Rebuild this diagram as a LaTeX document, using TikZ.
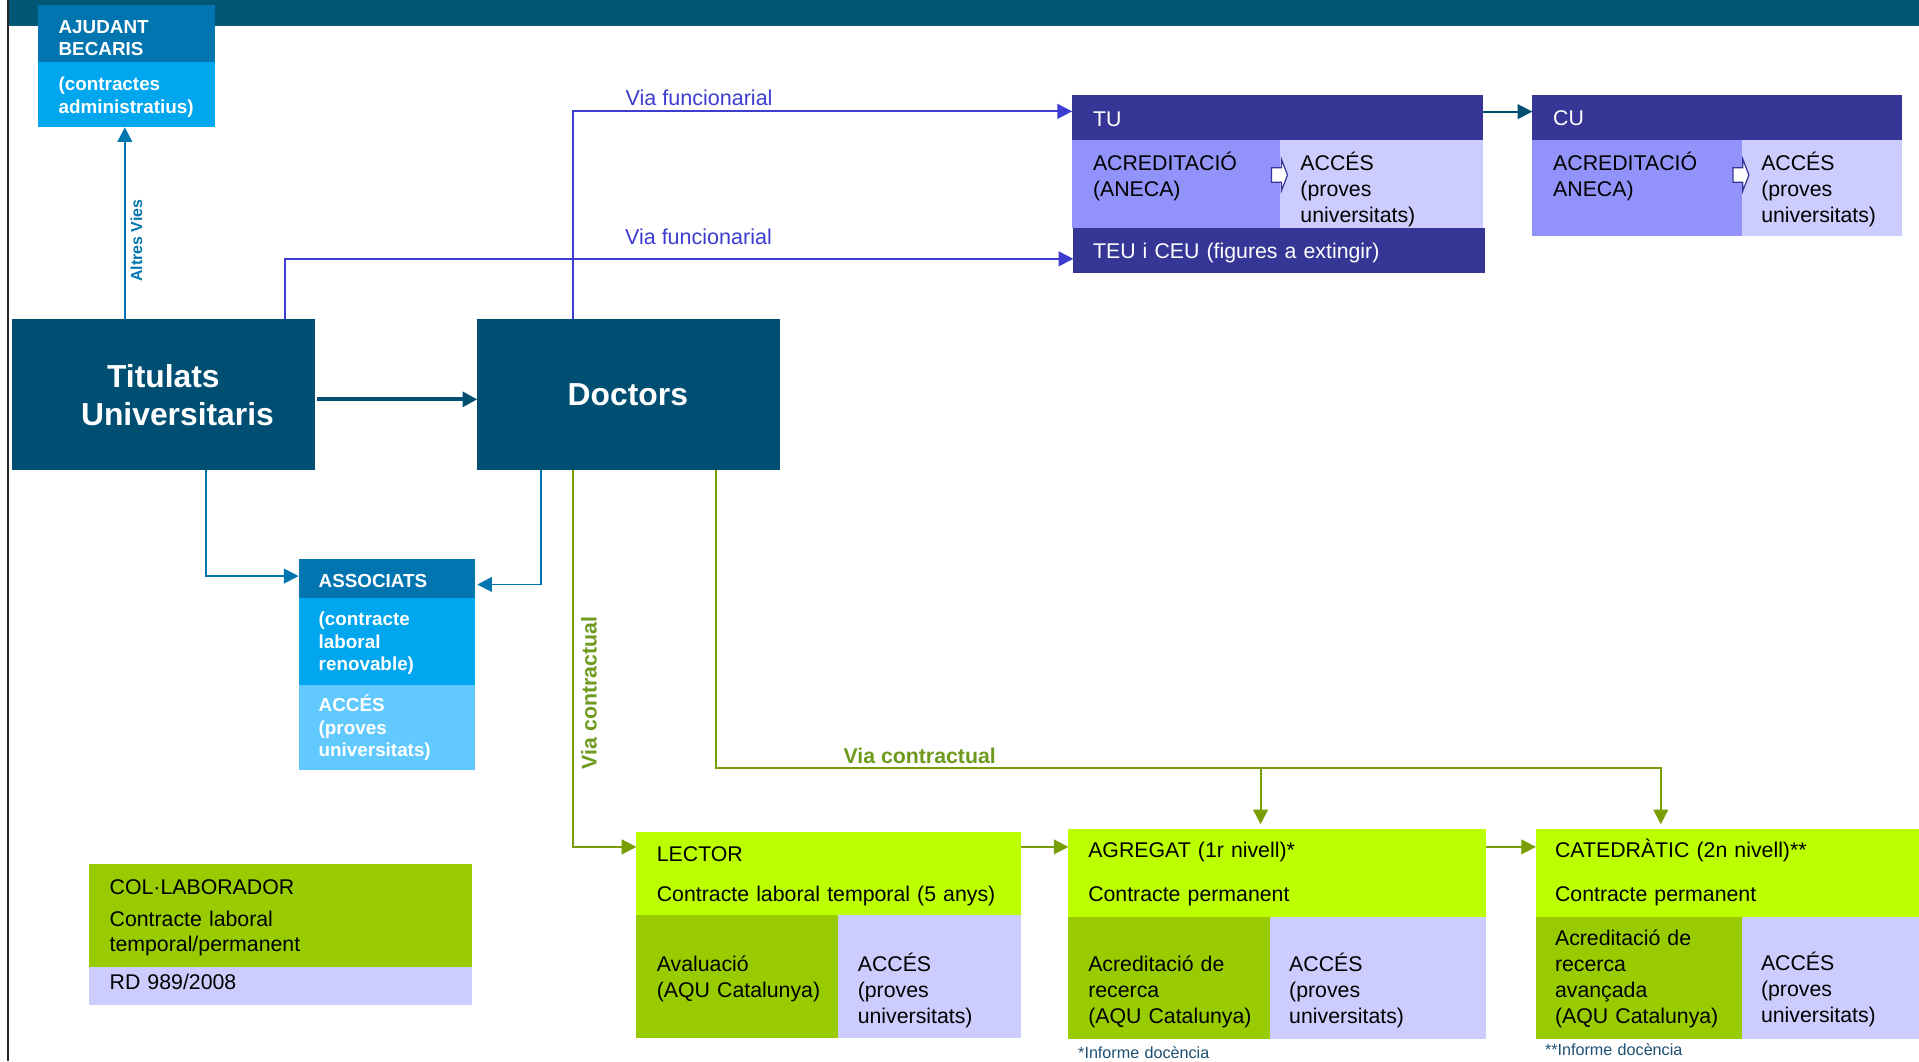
\documentclass[tikz,border=0pt]{standalone}
\usepackage{fontspec}
\setmainfont{Liberation Sans}
\usetikzlibrary{arrows.meta,positioning,calc,fit}

\definecolor{bandteal}{RGB}{2,88,116}
\definecolor{mainteal}{RGB}{0,79,115}
\definecolor{ajdark}{RGB}{0,117,176}
\definecolor{ajlight}{RGB}{0,166,238}
\definecolor{aslight}{RGB}{98,201,255}
\definecolor{indigo}{RGB}{54,54,150}
\definecolor{periw}{RGB}{146,146,251}
\definecolor{lavend}{RGB}{204,204,255}
\definecolor{limeg}{RGB}{187,255,0}
\definecolor{oliveg}{RGB}{153,204,0}
\definecolor{lineg}{RGB}{120,158,4}
\definecolor{labelg}{RGB}{110,154,30}
\definecolor{funcblue}{RGB}{60,60,208}
\definecolor{notecol}{RGB}{30,80,115}

\begin{document}
\begin{tikzpicture}[
    x=0.5pt, y=-0.5pt,
    >={Triangle[length=6pt,width=6pt]},
    box/.style={rectangle, inner sep=0pt, outer sep=0pt},
    txt/.style={inner sep=0pt, anchor=base west, align=left, text width=160pt,
        font=\fontsize{8.7}{10.6}\selectfont},
    wtxt/.style={txt, text=white},
    boldw/.style={inner sep=0pt, anchor=base west, align=left, text width=90pt,
        text=white, font=\fontsize{7.7}{9.2}\selectfont\bfseries},
    bigw/.style={inner sep=0pt, anchor=base, align=center, text width=110pt, text=white,
        font=\fontsize{13}{15.4}\selectfont\bfseries},
    link/.style={line width=0.8pt},
    funclink/.style={link, draw=funcblue, ->},
    contrlink/.style={link, draw=lineg, ->},
    assoclink/.style={link, draw=ajdark, ->},
    funclabel/.style={inner sep=0pt, anchor=base west, text=funcblue,
        font=\fontsize{8.8}{10}\selectfont},
    contrlabel/.style={text=labelg, font=\fontsize{8.7}{10}\selectfont\bfseries},
    note/.style={txt, text=notecol, font=\fontsize{6.6}{8}\selectfont},
]
  \useasboundingbox (0,0) rectangle (1568,867);
  \fill[white] (0,0) rectangle (1568,867);

  %––– Frame ––––––––––––––––––––––––––––––––––––––––––––––––
  \fill[bandteal] (7,0) rectangle (1568,21);
  \draw[line width=0.9pt, black!85] (6.5,0) -- (6.5,867);

  %––– Left column ––––––––––––––––––––––––––––––––––––––––––
  \node (ajHead) [box, fill=ajdark, fit={(31,4) (176,51)}] {};
  \node (ajBody) [box, fill=ajlight, fit={(31,51) (176,104)}] {};
  \node (ajT) [boldw] at (47.5,27.2) {AJUDANT\\BECARIS};
  \node (ajS) [boldw] at (47.5,74) {(contractes\\administratius)};

  \node (titulats) [box, fill=mainteal, fit={(10,261) (257,384)}] {};
  \node (titulatsT) [bigw] at (133.5,316.5) {Titulats\\\hspace*{11.5pt}Universitaris};
  \node (doctors) [box, fill=mainteal, fit={(390,261) (637,384)}] {};
  \node (doctorsT) [bigw] at (513,331.7) {Doctors};

  \node (asHead) [box, fill=ajdark, fit={(244,457) (388,489)}] {};
  \node (asMid) [box, fill=ajlight, fit={(244,489) (388,560)}] {};
  \node (asAcc) [box, fill=aslight, fit={(244,560) (388,629)}] {};
  \node (asT) [boldw] at (260,479.8) {ASSOCIATS};
  \node (asS) [boldw] at (260,511.4) {(contracte\\laboral\\renovable)};
  \node (asA) [boldw] at (260,581.5) {ACCÉS\\(proves\\universitats)};

  \node (colHead) [box, fill=oliveg, fit={(73,706) (386,790)}] {};
  \node (colRD) [box, fill=lavend, fit={(73,790) (386,821)}] {};
  \node (colT) [txt] at (89.2,731.2) {COL·LABORADOR};
  \node (colS) [txt, font=\fontsize{8.7}{10.2}\selectfont] at (89.2,757.2) {Contracte laboral\\temporal/permanent};
  \node (colR) [txt] at (89.2,808.8) {RD 989/2008};

  %––– Via funcionarial boxes –––––––––––––––––––––––––––––––
  \node (tuHead) [box, fill=indigo, fit={(876,78) (1212,114)}] {};
  \node (tuAcr) [box, fill=periw, fit={(876,114) (1046,186)}] {};
  \node (tuAcc) [box, fill=lavend, fit={(1046,114) (1212,186)}] {};
  \node (teu) [box, fill=indigo, fit={(877,186) (1213,223)}] {};
  \node (cuHead) [box, fill=indigo, fit={(1252,78) (1554,114)}] {};
  \node (cuAcr) [box, fill=periw, fit={(1252,114) (1423,193)}] {};
  \node (cuAcc) [box, fill=lavend, fit={(1423,114) (1554,193)}] {};

  \node (tuT) [wtxt] at (892.7,103.5) {TU};
  \node (tuA) [txt] at (892.7,139.7) {ACREDITACIÓ\\(ANECA)};
  \node (tuB) [txt] at (1062.2,139.7) {ACCÉS\\(proves\\universitats)};
  \node (teuT) [wtxt] at (892.7,211.6) {TEU i CEU (figures a extingir)};
  \node (cuT) [wtxt] at (1268.7,102.7) {CU};
  \node (cuA) [txt] at (1268.7,139.7) {ACREDITACIÓ\\ANECA)};
  \node (cuB) [txt] at (1438.7,139.7) {ACCÉS\\(proves\\universitats)};

  % small block arrows Acreditació -> Accés
  \foreach \ax in {1039,1416}
    \draw[indigo, line width=0.5pt, fill=white] (\ax,137) -- ++(8,0) -- ++(0,-7) -- ++(5,13)
        -- ++(-5,13) -- ++(0,-7) -- ++(-8,0) -- cycle;

  %––– Via contractual boxes ––––––––––––––––––––––––––––––––
  \node (leHead) [box, fill=limeg, fit={(520,680) (834,748)}] {};
  \node (leAva) [box, fill=oliveg, fit={(520,748) (685,848)}] {};
  \node (leAcc) [box, fill=lavend, fit={(685,748) (834,848)}] {};
  \node (agHead) [box, fill=limeg, fit={(873,677) (1214,749)}] {};
  \node (agAcr) [box, fill=oliveg, fit={(873,749) (1038,849)}] {};
  \node (agAcc) [box, fill=lavend, fit={(1038,749) (1214,849)}] {};
  \node (caHead) [box, fill=limeg, fit={(1255,677) (1568,749)}] {};
  \node (caAcr) [box, fill=oliveg, fit={(1255,749) (1423,849)}] {};
  \node (caAcc) [box, fill=lavend, fit={(1423,749) (1568,849)}] {};

  \node (leT) [txt] at (536.3,704.3) {LECTOR};
  \node (leS) [txt] at (536.3,736.7) {Contracte laboral temporal (5 anys)};
  \node (leA) [txt] at (536.3,793.9) {Avaluació\\(AQU Catalunya)};
  \node (leB) [txt] at (700.5,793.9) {ACCÉS\\(proves\\universitats)};

  \node (agT) [txt] at (888.8,700.8) {AGREGAT (1r nivell)*};
  \node (agS) [txt] at (888.8,736.7) {Contracte permanent};
  \node (agA) [txt] at (888.8,793.9) {Acreditació de\\recerca\\(AQU Catalunya)};
  \node (agB) [txt] at (1053,793.5) {ACCÉS\\(proves\\universitats)};

  \node (caT) [txt] at (1270.2,700.8) {CATEDRÀTIC (2n nivell)**};
  \node (caS) [txt] at (1270.2,737) {Contracte permanent};
  \node (caA) [txt] at (1270.2,772.7) {Acreditació de\\recerca\\avançada\\(AQU Catalunya)};
  \node (caB) [txt] at (1438.5,793) {ACCÉS\\(proves\\universitats)};

  \node (noteAg) [note] at (880.6,865) {*Informe docència};
  \node (noteCa) [note] at (1262,862.6) {**Informe docència};

  %––– Arrows –––––––––––––––––––––––––––––––––––––––––––––––
  \draw[assoclink] ([xshift=46pt]titulats.north west) -- ([xshift=46pt]titulats.north west |- ajBody.south)
      node[pos=0.41, anchor=north, rotate=90, inner sep=2pt, text=ajdark,
           font=\fontsize{6.5}{7}\selectfont\bfseries] {Altres Vies};
  \draw[link, draw=mainteal, line width=1.6pt, ->] ([xshift=1pt,yshift=-1.9pt]titulats.east) -- ([yshift=-1.9pt]doctors.west);

  \draw[funclink] ([xshift=39pt]doctors.north west) |- ([yshift=2.5pt]tuHead.west)
      node[funclabel, pos=0.552, yshift=2.6pt] {Via funcionarial};
  \draw[funclink] ([xshift=111.5pt]titulats.north west) |- ([yshift=-3.5pt]teu.west)
      node[funclabel, pos=0.715, yshift=5.9pt] {Via funcionarial};
  \draw[link, draw=mainteal, ->] ([yshift=2.4pt]tuHead.east) -- ([yshift=2.4pt]tuHead.east -| cuHead.west);

  \draw[assoclink] ([xshift=79pt]titulats.south west) |- ([yshift=1.15pt]asHead.west);
  \draw[assoclink] ([xshift=26pt]doctors.south west) |- ([xshift=1pt,yshift=-2.3pt]asHead.east);

  \draw[contrlink] ([xshift=39pt]doctors.south west) |- ([yshift=11pt]leHead.west)
      node[contrlabel, pos=0.296, anchor=north, rotate=90, inner sep=3pt] {Via contractual};
  \draw[contrlink, shorten >=1.75pt] ([xshift=97.5pt]doctors.south west) |- ([xshift=51pt,yshift=24.75pt]caHead.north west)
      node[contrlabel, pos=0.567, anchor=base west, inner sep=0pt, yshift=2pt] {Via contractual}
      -- ([xshift=51pt]caHead.north west);
  \path ([xshift=78.5pt,yshift=24.75pt]agHead.north west) coordinate (railAg);
  \draw[contrlink, shorten >=1.75pt] (railAg) -- (railAg |- agHead.north);

  \draw[contrlink] ([yshift=11pt]leHead.east) -- ([yshift=11pt]leHead.east -| agHead.west);
  \draw[contrlink] ([yshift=11pt]leHead.east -| agHead.east) -- ([yshift=11pt]leHead.east -| caHead.west);
\end{tikzpicture}
\end{document}
